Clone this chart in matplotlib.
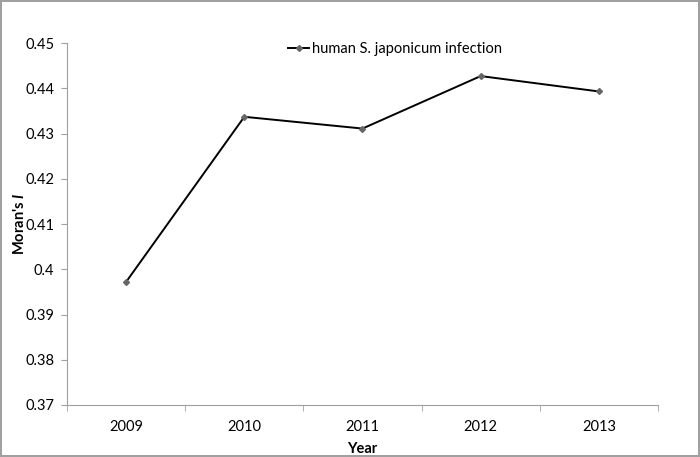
import numpy as np
import matplotlib.pyplot as plt

# data
years = ["2009", "2010", "2011", "2012", "2013"]
morans_i = [0.3972, 0.4337, 0.4311, 0.4427, 0.4393]
series_name = "human S. japonicum infection"
y_ticks = [0.37, 0.38, 0.39, 0.40, 0.41, 0.42, 0.43, 0.44, 0.45]
y_tick_labels = ["0.37", "0.38", "0.39", "0.4", "0.41", "0.42", "0.43", "0.44", "0.45"]

plt.rcParams['font.family'] = ['Lato', 'DejaVu Sans']
plt.rcParams['mathtext.fontset'] = 'custom'
plt.rcParams['mathtext.it'] = 'Lato:italic:bold'

fig = plt.figure(figsize=(7, 4.57), dpi=100)
fig.patch.set_edgecolor('#a0a0a0')
fig.patch.set_linewidth(1.5)
ax = fig.add_axes([0.0957, 0.1138, 0.8443, 0.792])

x = np.arange(len(years))
ax.plot(x, morans_i, color='black', lw=1.4, marker='D', markersize=3,
        markerfacecolor='#666666', markeredgecolor='#666666', label=series_name)

ax.set_xlim(-0.5, len(years) - 0.5)
ax.set_ylim(0.37, 0.45)
ax.set_yticks(y_ticks)
ax.set_yticklabels(y_tick_labels, fontsize=10.5)
ax.set_xticks(x)
ax.set_xticklabels(years, fontsize=10.5)
ax.tick_params(axis='x', length=0, pad=11)
ax.set_xticks(np.arange(len(years) + 1) - 0.5, minor=True)
ax.tick_params(axis='x', which='minor', length=4, color='#a0a0a0')
ax.tick_params(axis='y', length=4, color='#a0a0a0', pad=5)

for s in ['top', 'right']:
    ax.spines[s].set_visible(False)
for s in ['left', 'bottom']:
    ax.spines[s].set_color('#a0a0a0')

ax.set_xlabel("Year", fontsize=10.5, fontweight='bold')
ax.set_ylabel(r"Moran's $\mathit{I}$", fontsize=10.5, fontweight='bold')
ax.xaxis.set_label_coords(0.5, -0.103)
ax.yaxis.set_label_coords(-0.068, 0.5)

ax.legend(loc='upper center', bbox_to_anchor=(0.555, 1.04), frameon=False,
          fontsize=10.5, handlelength=1.5, handletextpad=0.2)

fig.savefig("out.png", dpi=100)
